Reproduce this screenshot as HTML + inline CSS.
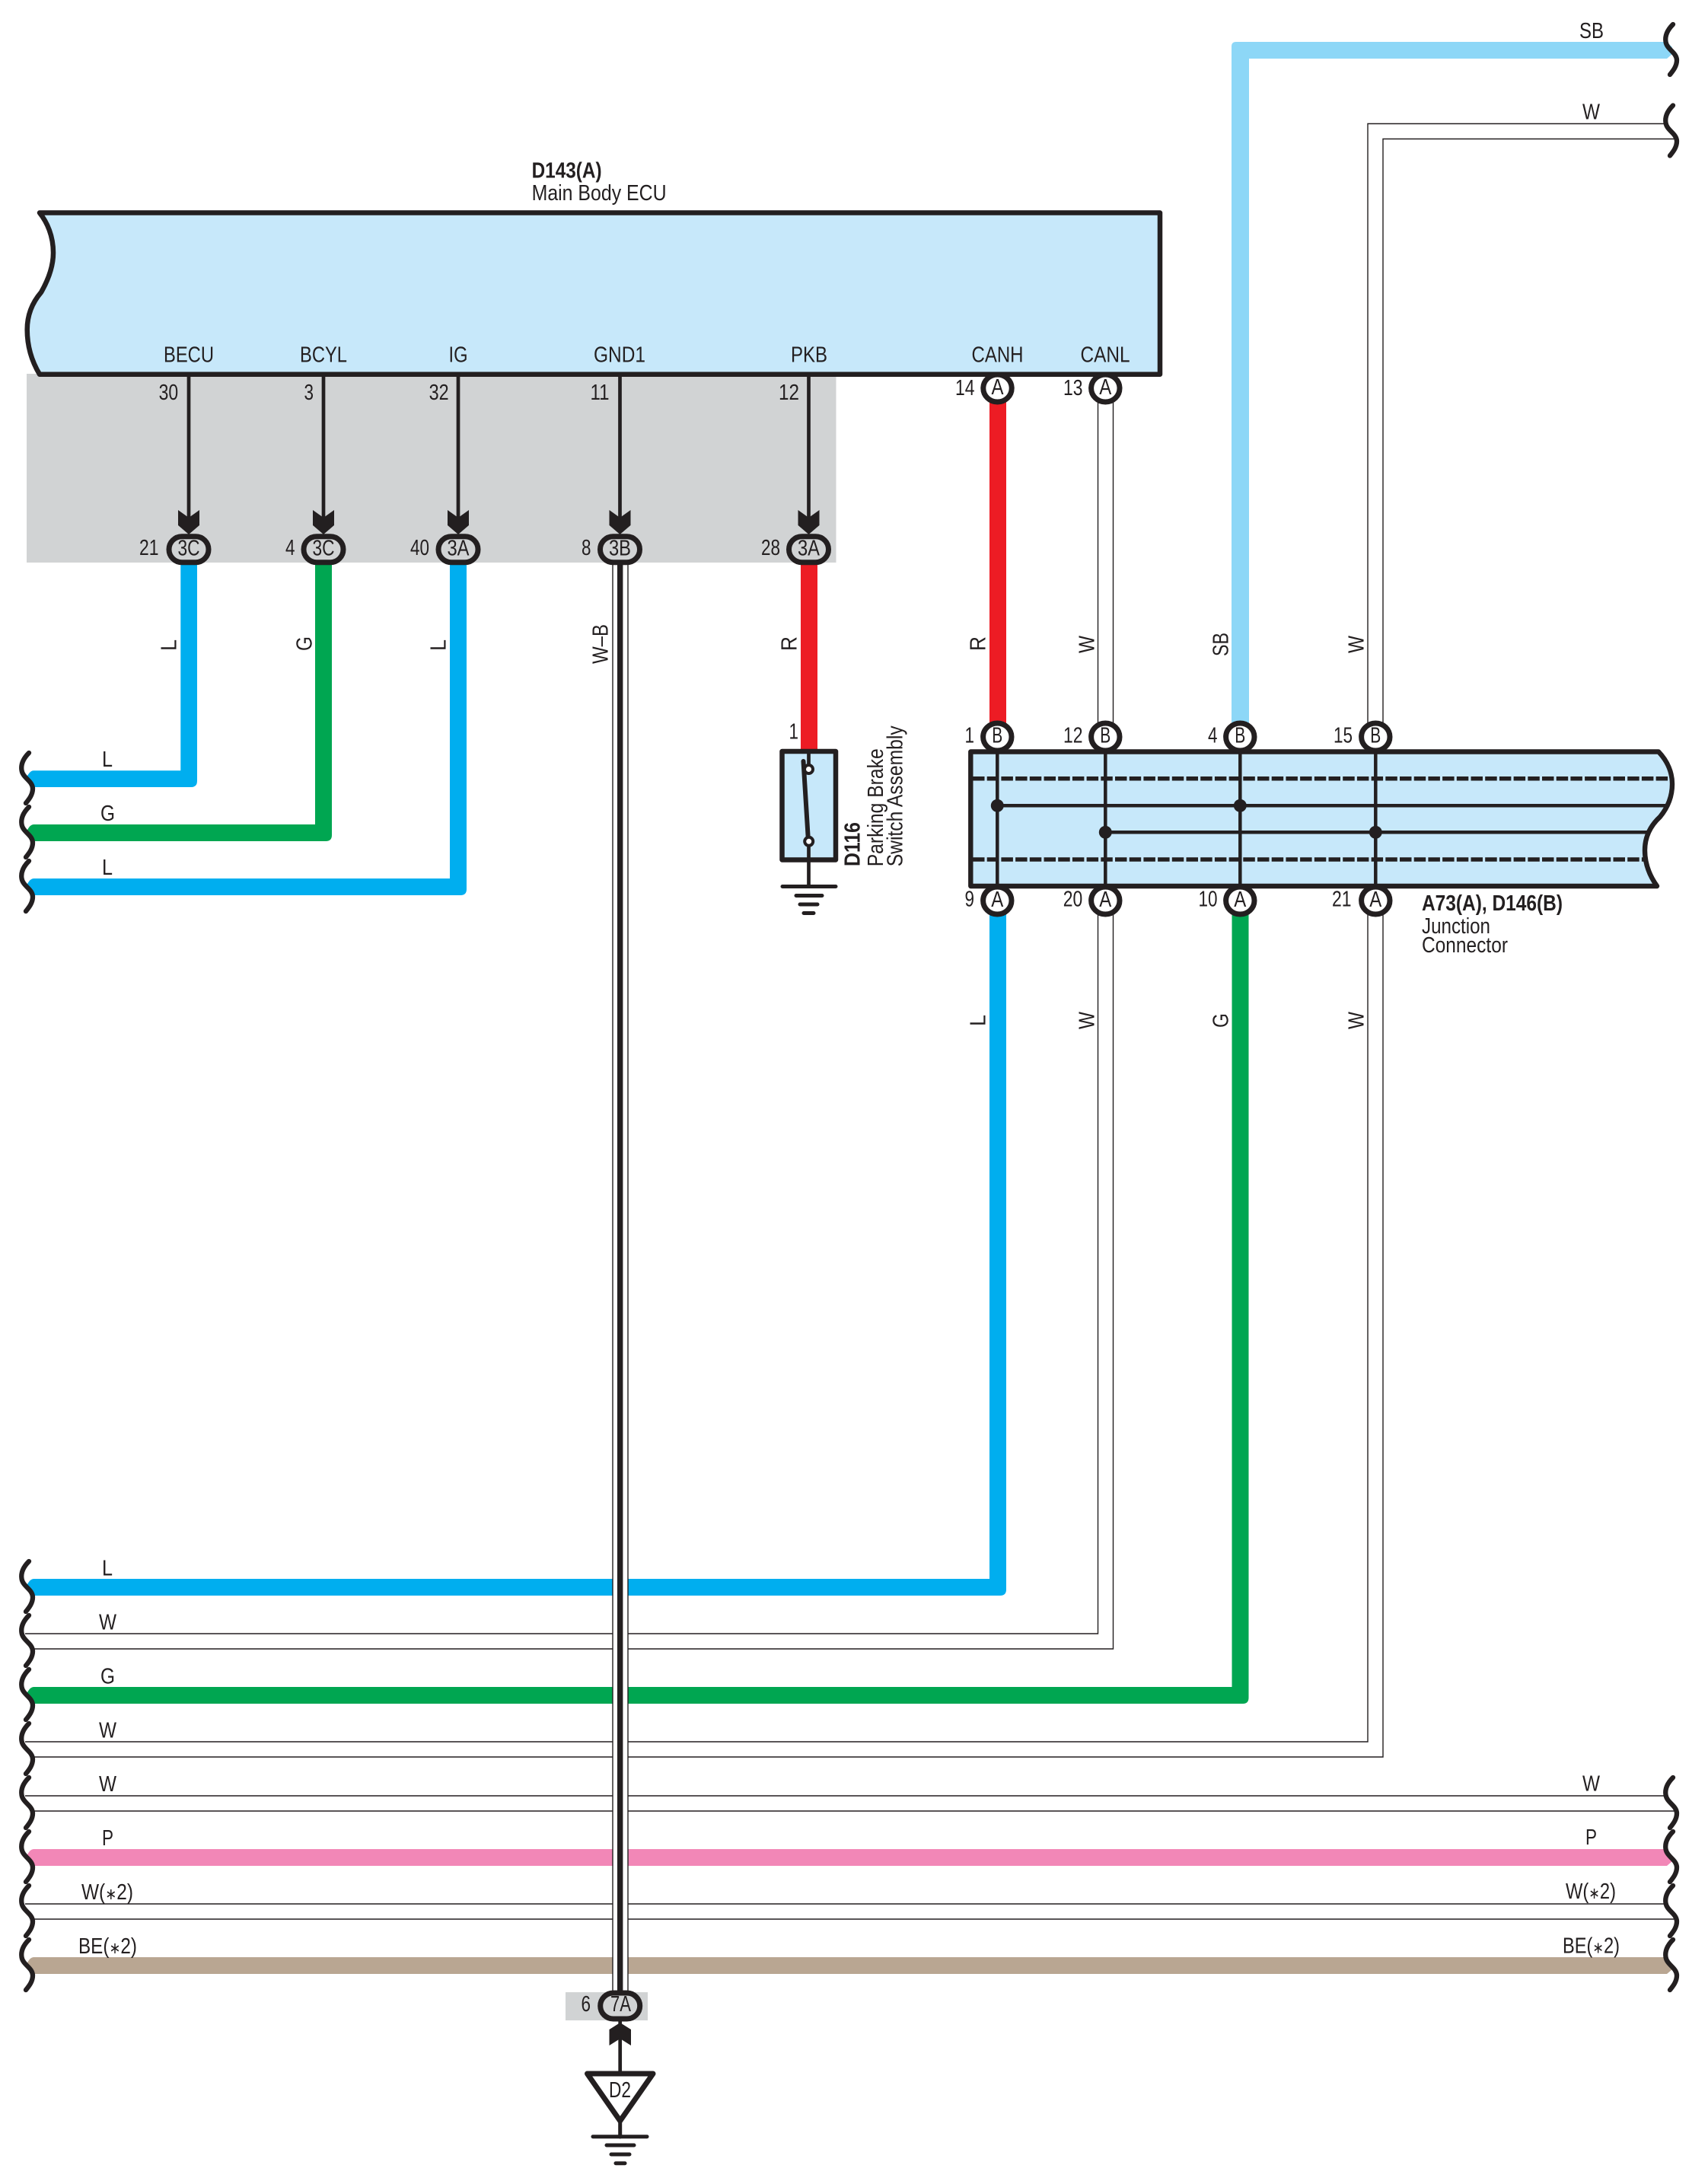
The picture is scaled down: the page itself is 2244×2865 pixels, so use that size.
<!DOCTYPE html>
<html><head><meta charset="utf-8">
<style>
html,body{margin:0;padding:0;background:#fff}
svg{display:block}
text{font-family:"Liberation Sans",sans-serif;font-size:28.5px;fill:#231f20}
.b{font-weight:bold}
tspan.s{font-size:21px}
</style></head><body>
<svg xmlns="http://www.w3.org/2000/svg" width="2244" height="2865" viewBox="0 0 2244 2865">
<defs>
<path id="br" d="M38,-34 C32,-28 27,-20 28.5,-11 C30,-1 43,3 43,13 C43,21 38,27 34,32" fill="none" stroke="#231f20" stroke-width="6.3" stroke-linecap="round"/>
<g id="av"><path d="M-14,-32 L0,-22 L14,-32 V-12 L0,0 L-14,-12Z" fill="#231f20"/></g>
<rect id="ov" x="-26" y="-17" width="52" height="34" rx="17" fill="#d1d3d4" stroke="#231f20" stroke-width="7"/>
<ellipse id="ci" rx="18.7" ry="18" fill="#fff" stroke="#231f20" stroke-width="7"/>
</defs>
<rect width="2244" height="2865" fill="#fff"/>

<!-- grey areas -->
<rect x="35" y="491" width="1063.5" height="248" fill="#d1d3d4"/>
<rect x="743" y="2617" width="108" height="37" fill="#d1d3d4"/>

<!-- ECU -->
<path d="M52,279.5 H1524 V491.7 H52 C42,475 35.7,455 35.7,433 C35.7,415 42,398 54,384 C62,370 70,352 70,332 C70,310 62,292 52,279.5Z" fill="#c7e8fa" stroke="#231f20" stroke-width="6.5" stroke-linejoin="round"/>

<!-- signal lines ECU to inline connectors -->
<g stroke="#231f20" stroke-width="4.7" fill="none">
<path d="M248,493V682M425,493V682M602,493V682M814.5,493V682M1062.5,493V682"/>
</g>
<use href="#av" x="248" y="702"/><use href="#av" x="425" y="702"/><use href="#av" x="602" y="702"/><use href="#av" x="814.5" y="702"/><use href="#av" x="1062.5" y="702"/>

<!-- colored bands -->
<path d="M44,1012.3 Q40,1012.3 36,1019 V1028 L43,1034 H251 Q259,1034 259,1026 V739 H237.3 V1012.3Z" fill="#00aeef"/>
<path d="M44,1083 Q40,1083 36,1090 V1099 L43,1105 H428 Q436,1105 436,1097 V739 H414 V1083Z" fill="#00a651"/>
<path d="M44,1154 Q40,1154 36,1161 V1170 L43,1176 H605 Q613,1176 613,1168 V739 H591 V1154Z" fill="#00aeef"/>
<rect x="1052" y="739" width="22" height="246" fill="#ed1c24"/>
<rect x="1300" y="510" width="22" height="458" fill="#ed1c24"/>
<path d="M1618,968 V61 Q1618,55 1624,55 H2190 L2197,62 V71 L2190,77 H1641 V968Z" fill="#8dd7f7"/>
<path d="M44,2074 Q40,2074 36,2081 V2090 L43,2096 H1314 Q1322,2096 1322,2088 V1183 H1300 V2074Z" fill="#00aeef"/>
<path d="M44,2216 Q40,2216 36,2223 V2232 L43,2238 H1633 Q1640.5,2238 1640.5,2230 V1183 H1618.5 V2216Z" fill="#00a651"/>
<path d="M44,2429 Q40,2429 36,2436 V2445 L43,2451 H2190 L2197,2445 L2190,2429Z" fill="#f287b7"/>
<path d="M44,2571 Q40,2571 36,2578 V2587 L43,2593 H2190 L2197,2587 L2190,2571Z" fill="#b9a692"/>

<!-- white (double hairline) wires -->
<g fill="none" stroke="#231f20" stroke-width="1.4">
<path d="M1442.5,510V968M1462.5,510V968"/>
<path d="M1797,968V162.5H2190M1817,968V182.5H2202"/>
<path d="M1442.5,1183V2146H33M1462.5,1183V2166H42"/>
<path d="M1797,1183V2288H33M1817,1183V2308H42"/>
<path d="M33,2359H2190M42,2379H2202"/>
<path d="M33,2501H2190M42,2521H2202"/>
</g>

<!-- W-B wire -->
<rect x="804.5" y="740" width="21" height="1880" fill="#fff"/>
<path d="M805,740V2620M825,740V2620" stroke="#231f20" stroke-width="1.4" fill="none"/>
<rect x="811" y="722" width="7.4" height="1898" fill="#231f20"/>

<!-- break marks -->
<use href="#br" y="1023"/><use href="#br" y="1094"/><use href="#br" y="1165"/>
<use href="#br" y="2085"/><use href="#br" y="2156"/><use href="#br" y="2227"/><use href="#br" y="2298"/><use href="#br" y="2369"/><use href="#br" y="2440"/><use href="#br" y="2511"/><use href="#br" y="2582"/>
<use href="#br" x="2160" y="66"/><use href="#br" x="2160" y="172.5"/>
<use href="#br" x="2160" y="2369"/><use href="#br" x="2160" y="2440"/><use href="#br" x="2160" y="2511"/><use href="#br" x="2160" y="2582"/>

<!-- inline connectors -->
<use href="#ov" x="248" y="721.7"/><use href="#ov" x="425" y="721.7"/><use href="#ov" x="602" y="721.7"/><use href="#ov" x="814.5" y="721.7"/><use href="#ov" x="1062.5" y="721.7"/>
<use href="#ov" x="814.7" y="2635"/>

<!-- D116 switch -->
<rect x="1027.5" y="987" width="70.5" height="142.5" fill="#c7e8fa" stroke="#231f20" stroke-width="6.5" stroke-linejoin="round"/>
<path d="M1062.5,987V1006M1062.5,1112V1164" stroke="#231f20" stroke-width="4.7" fill="none"/>
<path d="M1055.5,1000L1062,1105" stroke="#231f20" stroke-width="6" stroke-linecap="round" fill="none"/>
<circle cx="1062.5" cy="1010.5" r="5.5" fill="#fff" stroke="#231f20" stroke-width="4"/>
<circle cx="1062.7" cy="1105.3" r="5.5" fill="#fff" stroke="#231f20" stroke-width="4"/>
<g stroke="#231f20" stroke-width="5" stroke-linecap="round" fill="none">
<path d="M1028,1164.5H1098M1046,1176.5H1080M1051,1188H1074M1056,1199.5H1069"/>
</g>

<!-- Junction connector -->
<path d="M1275.3,987.5 H2179 C2191,1000 2197,1015 2197,1030 C2197,1048 2190,1062 2181,1073 C2168,1085 2161,1100 2161,1117 C2161,1135 2167,1150 2177,1164 H1275.3Z" fill="#c7e8fa" stroke="#231f20" stroke-width="6.4" stroke-linejoin="round"/>
<g stroke="#231f20" fill="none">
<path d="M1278,1022.7H2195M1278,1129H2162" stroke-width="5.5" stroke-dasharray="15.5 3.2"/>
<path d="M1310.3,1058.3H2191M1452.3,1093.3H2165" stroke-width="4.5"/>
<path d="M1310.3,987V1164M1452.3,987V1164M1629.3,987V1164M1807.3,987V1164" stroke-width="4.5"/>
</g>
<g fill="#231f20">
<circle cx="1310.3" cy="1058.3" r="8.5"/><circle cx="1452.3" cy="1093.3" r="8.5"/><circle cx="1629.3" cy="1058.3" r="8.5"/><circle cx="1807.3" cy="1093.3" r="8.5"/>
</g>

<use href="#ci" x="1310.5" y="510"/><use href="#ci" x="1452.3" y="510"/>
<use href="#ci" x="1310.3" y="968"/><use href="#ci" x="1452.3" y="968"/><use href="#ci" x="1629.3" y="968"/><use href="#ci" x="1807.3" y="968"/>
<use href="#ci" x="1310.3" y="1183"/><use href="#ci" x="1452.3" y="1183"/><use href="#ci" x="1629.3" y="1183"/><use href="#ci" x="1807.3" y="1183"/>

<!-- D2 ground -->
<path d="M814.7,2654V2724" stroke="#231f20" stroke-width="4.7" fill="none"/>
<path d="M814.7,2657 L829,2666 V2687 L814.7,2678 L800.5,2687 V2666Z" fill="#231f20"/>
<path d="M771.5,2724 H858 L814.7,2786Z" fill="#fff" stroke="#231f20" stroke-width="7" stroke-linejoin="round"/>
<g stroke="#231f20" stroke-width="5" stroke-linecap="round" fill="none">
<path d="M814.7,2786V2807"/>
<path d="M779,2806.7H850M797,2818H833M803,2830H827M809,2841.7H821"/>
</g>

<g transform="translate(0,-1.2)">
<!-- titles -->
<text class="b" x="698.6" y="234.5" textLength="92" lengthAdjust="spacingAndGlyphs">D143(A)</text>
<text x="698.6" y="264" textLength="177" lengthAdjust="spacingAndGlyphs">Main Body ECU</text>
<text class="b" x="1868" y="1197" textLength="185" lengthAdjust="spacingAndGlyphs">A73(A), D146(B)</text>
<text x="1868" y="1227" textLength="90" lengthAdjust="spacingAndGlyphs">Junction</text>
<text x="1868" y="1252" textLength="113" lengthAdjust="spacingAndGlyphs">Connector</text>

<!-- ECU pin names -->
<text x="215" y="476.8" textLength="66" lengthAdjust="spacingAndGlyphs">BECU</text>
<text x="394" y="476.8" textLength="62" lengthAdjust="spacingAndGlyphs">BCYL</text>
<text x="589.5" y="476.8" textLength="25" lengthAdjust="spacingAndGlyphs">IG</text>
<text x="780" y="476.8" textLength="68" lengthAdjust="spacingAndGlyphs">GND1</text>
<text x="1039" y="476.8" textLength="48" lengthAdjust="spacingAndGlyphs">PKB</text>
<text x="1276.5" y="476.8" textLength="68" lengthAdjust="spacingAndGlyphs">CANH</text>
<text x="1419.5" y="476.8" textLength="65" lengthAdjust="spacingAndGlyphs">CANL</text>

<!-- pin numbers -->
<text x="208.6" y="526" textLength="25.5" lengthAdjust="spacingAndGlyphs">30</text>
<text x="399.5" y="526" textLength="12.5" lengthAdjust="spacingAndGlyphs">3</text>
<text x="563.6" y="526" textLength="26" lengthAdjust="spacingAndGlyphs">32</text>
<text x="775.5" y="526" textLength="25" lengthAdjust="spacingAndGlyphs">11</text>
<text x="1023" y="526" textLength="27" lengthAdjust="spacingAndGlyphs">12</text>
<text x="1255" y="520" textLength="25.5" lengthAdjust="spacingAndGlyphs">14</text>
<text x="1397" y="520" textLength="25.5" lengthAdjust="spacingAndGlyphs">13</text>

<text x="183" y="730" textLength="25.5" lengthAdjust="spacingAndGlyphs">21</text>
<text x="375" y="730" textLength="12.5" lengthAdjust="spacingAndGlyphs">4</text>
<text x="539" y="730" textLength="25" lengthAdjust="spacingAndGlyphs">40</text>
<text x="764" y="730" textLength="12.5" lengthAdjust="spacingAndGlyphs">8</text>
<text x="1000" y="730" textLength="25" lengthAdjust="spacingAndGlyphs">28</text>
<text x="763.5" y="2643" textLength="12.5" lengthAdjust="spacingAndGlyphs">6</text>
<text x="1036.5" y="971.7" textLength="12.5" lengthAdjust="spacingAndGlyphs">1</text>

<text x="1267.5" y="976.7" textLength="12.5" lengthAdjust="spacingAndGlyphs">1</text>
<text x="1397" y="976.7" textLength="25.5" lengthAdjust="spacingAndGlyphs">12</text>
<text x="1587" y="976.7" textLength="12.5" lengthAdjust="spacingAndGlyphs">4</text>
<text x="1752" y="976.7" textLength="25" lengthAdjust="spacingAndGlyphs">15</text>
<text x="1267.5" y="1191.7" textLength="12.5" lengthAdjust="spacingAndGlyphs">9</text>
<text x="1396.7" y="1191.7" textLength="25.5" lengthAdjust="spacingAndGlyphs">20</text>
<text x="1574.5" y="1191.7" textLength="25" lengthAdjust="spacingAndGlyphs">10</text>
<text x="1750" y="1191.7" textLength="25.5" lengthAdjust="spacingAndGlyphs">21</text>

<!-- connector letters -->
<text x="233.5" y="730.5" textLength="29" lengthAdjust="spacingAndGlyphs">3C</text>
<text x="410.5" y="730.5" textLength="29" lengthAdjust="spacingAndGlyphs">3C</text>
<text x="587.5" y="730.5" textLength="29" lengthAdjust="spacingAndGlyphs">3A</text>
<text x="800" y="730.5" textLength="29" lengthAdjust="spacingAndGlyphs">3B</text>
<text x="1048" y="730.5" textLength="29" lengthAdjust="spacingAndGlyphs">3A</text>
<text x="802" y="2643" textLength="27" lengthAdjust="spacingAndGlyphs">7A</text>
<text x="800" y="2756" textLength="29" lengthAdjust="spacingAndGlyphs">D2</text>

<text x="1302.5" y="519" textLength="16" lengthAdjust="spacingAndGlyphs">A</text>
<text x="1444.3" y="519" textLength="16" lengthAdjust="spacingAndGlyphs">A</text>
<text x="1303.3" y="976.7" textLength="14" lengthAdjust="spacingAndGlyphs">B</text>
<text x="1445.3" y="976.7" textLength="14" lengthAdjust="spacingAndGlyphs">B</text>
<text x="1622.3" y="976.7" textLength="14" lengthAdjust="spacingAndGlyphs">B</text>
<text x="1800.3" y="976.7" textLength="14" lengthAdjust="spacingAndGlyphs">B</text>
<text x="1302.3" y="1192" textLength="16" lengthAdjust="spacingAndGlyphs">A</text>
<text x="1444.3" y="1192" textLength="16" lengthAdjust="spacingAndGlyphs">A</text>
<text x="1621.3" y="1192" textLength="16" lengthAdjust="spacingAndGlyphs">A</text>
<text x="1799.3" y="1192" textLength="16" lengthAdjust="spacingAndGlyphs">A</text>

<!-- horizontal wire labels -->
<text x="134" y="1008" textLength="14" lengthAdjust="spacingAndGlyphs">L</text>
<text x="132" y="1079" textLength="19" lengthAdjust="spacingAndGlyphs">G</text>
<text x="134" y="1150" textLength="14" lengthAdjust="spacingAndGlyphs">L</text>
<text x="134" y="2070.5" textLength="14" lengthAdjust="spacingAndGlyphs">L</text>
<text x="130" y="2141.5" textLength="23" lengthAdjust="spacingAndGlyphs">W</text>
<text x="132" y="2212.5" textLength="19" lengthAdjust="spacingAndGlyphs">G</text>
<text x="130" y="2283.5" textLength="23" lengthAdjust="spacingAndGlyphs">W</text>
<text x="130" y="2354" textLength="23" lengthAdjust="spacingAndGlyphs">W</text>
<text x="134" y="2425" textLength="15" lengthAdjust="spacingAndGlyphs">P</text>
<text x="107" y="2496" textLength="68" lengthAdjust="spacingAndGlyphs">W(<tspan class="s">∗</tspan>2)</text>
<text x="103" y="2567" textLength="77" lengthAdjust="spacingAndGlyphs">BE(<tspan class="s">∗</tspan>2)</text>

<text x="2075" y="51" textLength="32" lengthAdjust="spacingAndGlyphs">SB</text>
<text x="2079" y="157.5" textLength="23" lengthAdjust="spacingAndGlyphs">W</text>
<text x="2079" y="2353.5" textLength="23" lengthAdjust="spacingAndGlyphs">W</text>
<text x="2083" y="2424" textLength="15" lengthAdjust="spacingAndGlyphs">P</text>
<text x="2057" y="2495" textLength="66" lengthAdjust="spacingAndGlyphs">W(<tspan class="s">∗</tspan>2)</text>
<text x="2053" y="2566.7" textLength="75" lengthAdjust="spacingAndGlyphs">BE(<tspan class="s">∗</tspan>2)</text>
</g>

<!-- rotated wire labels -->
<g transform="translate(-1.5,0)">
<text transform="translate(233,855) rotate(-90)" textLength="15" lengthAdjust="spacingAndGlyphs">L</text>
<text transform="translate(411,855) rotate(-90)" textLength="19" lengthAdjust="spacingAndGlyphs">G</text>
<text transform="translate(587,855) rotate(-90)" textLength="15" lengthAdjust="spacingAndGlyphs">L</text>
<text transform="translate(800,872) rotate(-90)" textLength="52" lengthAdjust="spacingAndGlyphs">W–B</text>
<text transform="translate(1048,855) rotate(-90)" textLength="19" lengthAdjust="spacingAndGlyphs">R</text>
<text transform="translate(1296,855) rotate(-90)" textLength="19" lengthAdjust="spacingAndGlyphs">R</text>
<text transform="translate(1439,858) rotate(-90)" textLength="23" lengthAdjust="spacingAndGlyphs">W</text>
<text transform="translate(1615,862) rotate(-90)" textLength="31" lengthAdjust="spacingAndGlyphs">SB</text>
<text transform="translate(1793,858) rotate(-90)" textLength="23" lengthAdjust="spacingAndGlyphs">W</text>
<text transform="translate(1296,1348) rotate(-90)" textLength="15" lengthAdjust="spacingAndGlyphs">L</text>
<text transform="translate(1439,1352) rotate(-90)" textLength="23" lengthAdjust="spacingAndGlyphs">W</text>
<text transform="translate(1615,1350) rotate(-90)" textLength="19" lengthAdjust="spacingAndGlyphs">G</text>
<text transform="translate(1793,1352) rotate(-90)" textLength="23" lengthAdjust="spacingAndGlyphs">W</text>
</g>

<text class="b" transform="translate(1129.3,1138) rotate(-90)" textLength="58" lengthAdjust="spacingAndGlyphs">D116</text>
<text transform="translate(1160,1138.3) rotate(-90)" textLength="155" lengthAdjust="spacingAndGlyphs">Parking Brake</text>
<text transform="translate(1185.7,1138.3) rotate(-90)" textLength="185" lengthAdjust="spacingAndGlyphs">Switch Assembly</text>
</svg>
</body></html>
